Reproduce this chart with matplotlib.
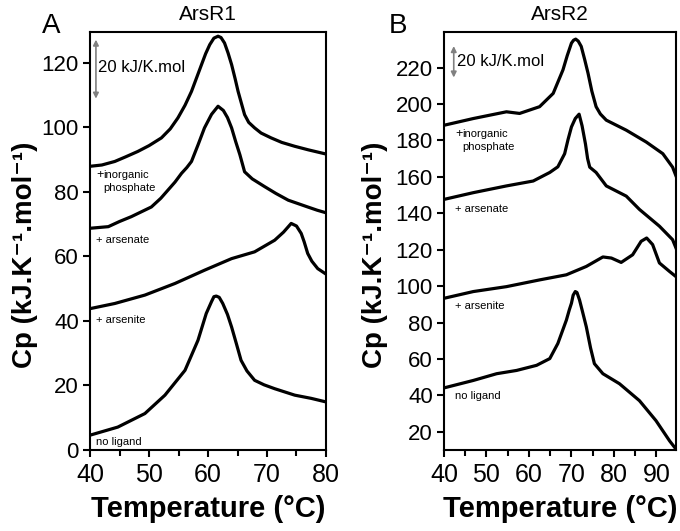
import numpy as np
import matplotlib
matplotlib.use("Agg")
import matplotlib.pyplot as plt
from matplotlib.ticker import MultipleLocator

plt.rcParams['font.family'] = ['Liberation Sans', 'DejaVu Sans']

# ArsR1 thermograms (Temperature in C, Cp in kJ/K.mol, curves offset)
a_phos_t = [40.0, 42.0, 44.2, 46.0, 48.1, 50.0, 52.1, 53.6, 54.9, 56.1, 57.2, 58.9, 59.6, 60.3, 61.0, 61.7,
            62.2, 62.8, 63.4, 64.0, 64.6, 65.1, 66.2, 66.9, 67.9, 69.0, 70.7, 72.5, 74.7, 77.0, 80.0]
a_phos_cp = [87.9, 88.3, 89.4, 90.8, 92.5, 94.3, 96.7, 99.5, 102.9, 106.8, 111.1, 119.4, 122.8, 125.6, 127.6, 128.2,
             127.8, 126.1, 123.0, 119.4, 115.0, 111.1, 103.9, 101.5, 99.8, 98.2, 96.7, 95.3, 94.1, 93.0, 91.7]

a_arsenate_t = [40.0, 43.1, 45.0, 47.0, 50.4, 52.0, 53.2, 54.4, 55.5, 56.4, 57.2, 58.3, 59.4, 60.6, 61.7,
                62.6, 63.3, 64.0, 64.7, 65.4, 66.2, 67.5, 69.6, 71.5, 73.6, 76.9, 78.5, 80.0]
a_arsenate_cp = [68.7, 69.2, 70.8, 72.3, 75.3, 78.0, 80.5, 83.0, 85.7, 87.5, 89.4, 94.5, 99.8, 104.0, 106.5,
                 105.2, 103.0, 99.8, 95.5, 91.5, 86.2, 84.0, 81.6, 79.5, 77.4, 75.3, 74.3, 73.5]

a_arsenite_t = [40.0, 44.2, 49.3, 54.4, 59.4, 64.0, 67.9, 71.3, 72.8, 74.1, 75.0, 75.8, 76.3, 76.9, 77.6, 78.6, 80.0]
a_arsenite_cp = [43.8, 45.4, 48.0, 51.6, 55.7, 59.3, 61.4, 65.0, 67.5, 70.2, 69.4, 67.1, 64.5, 60.9, 58.5, 56.2, 54.5]

a_none_t = [40.0, 44.7, 49.3, 52.7, 56.1, 58.3, 59.7, 60.6, 61.0, 61.4, 61.9, 62.5, 63.3, 64.0, 64.8, 65.6,
            66.6, 67.9, 69.5, 71.3, 74.7, 77.5, 80.0]
a_none_cp = [4.6, 7.1, 11.3, 17.0, 24.7, 34.0, 42.3, 46.0, 47.5, 47.7, 47.3, 45.4, 42.0, 38.1, 33.0, 27.8,
             24.5, 21.6, 20.2, 19.0, 17.0, 16.0, 14.9]

# ArsR2 thermograms
b_phos_t = [40.0, 46.9, 54.7, 57.8, 62.5, 65.7, 68.0, 69.0, 70.0, 70.5, 71.0, 71.6, 72.3, 73.1, 73.9,
            74.8, 75.8, 76.8, 78.2, 82.9, 87.6, 91.5, 93.8, 94.6]
b_phos_cp = [188.3, 192.0, 195.7, 194.8, 198.5, 205.8, 218.7, 226.5, 233.4, 235.0, 235.6, 234.5, 231.6, 224.5, 216.9,
             207.0, 198.5, 194.5, 191.1, 185.6, 179.1, 172.7, 165.3, 160.5]

b_arsenate_t = [40.0, 46.9, 54.7, 61.0, 64.9, 66.8, 68.4, 69.2, 70.0, 70.9, 71.8, 72.5, 73.3, 73.8, 74.3,
                75.8, 78.2, 82.9, 86.0, 90.7, 93.8, 94.6]
b_arsenate_cp = [147.6, 151.3, 155.0, 157.7, 162.4, 165.5, 172.7, 180.5, 187.4, 192.0, 194.4, 188.0, 178.0, 170.0, 165.3,
                 162.4, 155.0, 149.4, 142.1, 132.9, 125.5, 120.9]

b_arsenite_t = [40.0, 46.9, 54.7, 62.5, 68.8, 73.5, 77.4, 79.4, 81.7, 84.4, 86.4, 87.7, 89.1, 90.7, 93.1, 94.6]
b_arsenite_cp = [93.3, 97.0, 99.7, 103.4, 106.2, 110.8, 116.0, 115.4, 113.0, 117.2, 124.6, 126.4, 122.8, 112.7, 108.0, 105.2]

b_none_t = [40.0, 46.9, 52.4, 57.1, 61.8, 64.9, 66.8, 68.8, 69.5, 70.0, 70.4, 70.9, 71.3, 71.9, 72.6, 73.5,
            74.5, 75.4, 77.4, 81.3, 86.0, 89.9, 93.1, 94.6]
b_none_cp = [44.1, 48.2, 51.9, 53.7, 56.5, 60.2, 68.5, 81.3, 87.0, 90.6, 95.0, 97.0, 96.5, 92.4, 86.0, 77.6,
             66.0, 57.4, 51.9, 46.4, 37.1, 26.1, 15.0, 10.5]

fig = plt.figure(figsize=(6.8, 5.31), dpi=100)
axA = fig.add_axes([0.1324, 0.1525, 0.347, 0.7872])
axB = fig.add_axes([0.6529, 0.1525, 0.3412, 0.7872])

lw = 2.3
for ax in (axA, axB):
    for s in ax.spines.values():
        s.set_linewidth(1.5)
    ax.tick_params(axis='both', which='major', direction='out', width=1.5, length=5)
    ax.tick_params(axis='x', which='minor', direction='out', width=1.5, length=4)
    ax.tick_params(axis='x', labelsize=18, pad=4)
    ax.tick_params(axis='y', labelsize=16, pad=3)
    ax.xaxis.set_major_locator(MultipleLocator(10))
    ax.xaxis.set_minor_locator(MultipleLocator(5))
    ax.yaxis.set_major_locator(MultipleLocator(20))
    ax.set_xlabel('Temperature (°C)', fontsize=21, fontweight='bold', labelpad=6)
    ax.set_ylabel('Cp (kJ.K⁻¹.mol⁻¹)', fontsize=20, fontweight='bold')

# panel A
axA.plot(a_phos_t, a_phos_cp, color='black', lw=lw)
axA.plot(a_arsenate_t, a_arsenate_cp, color='black', lw=lw)
axA.plot(a_arsenite_t, a_arsenite_cp, color='black', lw=lw)
axA.plot(a_none_t, a_none_cp, color='black', lw=lw)
axA.set_xlim(40, 80)
axA.set_ylim(0, 129.5)
axA.set_title('ArsR1', fontsize=15, pad=9)
axA.yaxis.set_label_coords(-0.22, 0.467)

axA.annotate('', xy=(41, 128), xytext=(41, 108),
             arrowprops=dict(arrowstyle='<|-|>', color='gray', lw=1.2, mutation_scale=8))
axA.text(41.3, 118.5, '20 kJ/K.mol', fontsize=12, va='center')
axA.text(41.0, 84.3, '+', fontsize=9, va='baseline')
axA.text(42.3, 84.3, 'inorganic', fontsize=8, va='baseline')
axA.text(42.3, 80.2, 'phosphate', fontsize=8, va='baseline')
axA.text(41.0, 65, '+ arsenate', fontsize=8, va='center')
axA.text(41.0, 40.2, '+ arsenite', fontsize=8, va='center')
axA.text(41.0, 2.6, 'no ligand', fontsize=8, va='center')

# panel B
axB.plot(b_phos_t, b_phos_cp, color='black', lw=lw)
axB.plot(b_arsenate_t, b_arsenate_cp, color='black', lw=lw)
axB.plot(b_arsenite_t, b_arsenite_cp, color='black', lw=lw)
axB.plot(b_none_t, b_none_cp, color='black', lw=lw)
axB.set_xlim(40, 94.6)
axB.set_ylim(10, 239.5)
axB.set_title('ArsR2', fontsize=15, pad=9)
axB.yaxis.set_label_coords(-0.24, 0.467)

axB.annotate('', xy=(42.3, 233.3), xytext=(42.3, 213),
             arrowprops=dict(arrowstyle='<|-|>', color='gray', lw=1.2, mutation_scale=8))
axB.text(43.0, 223.3, '20 kJ/K.mol', fontsize=12, va='center')
axB.text(42.6, 181.9, '+', fontsize=9, va='baseline')
axB.text(44.3, 181.9, 'inorganic', fontsize=8, va='baseline')
axB.text(44.3, 174.5, 'phosphate', fontsize=8, va='baseline')
axB.text(42.6, 142.5, '+ arsenate', fontsize=8, va='center')
axB.text(42.6, 89.1, '+ arsenite', fontsize=8, va='center')
axB.text(42.6, 39.9, 'no ligand', fontsize=8, va='center')

fig.text(0.075, 0.975, 'A', fontsize=20, va='top', ha='center')
fig.text(0.585, 0.975, 'B', fontsize=20, va='top', ha='center')

fig.savefig('out.png', dpi=100)
